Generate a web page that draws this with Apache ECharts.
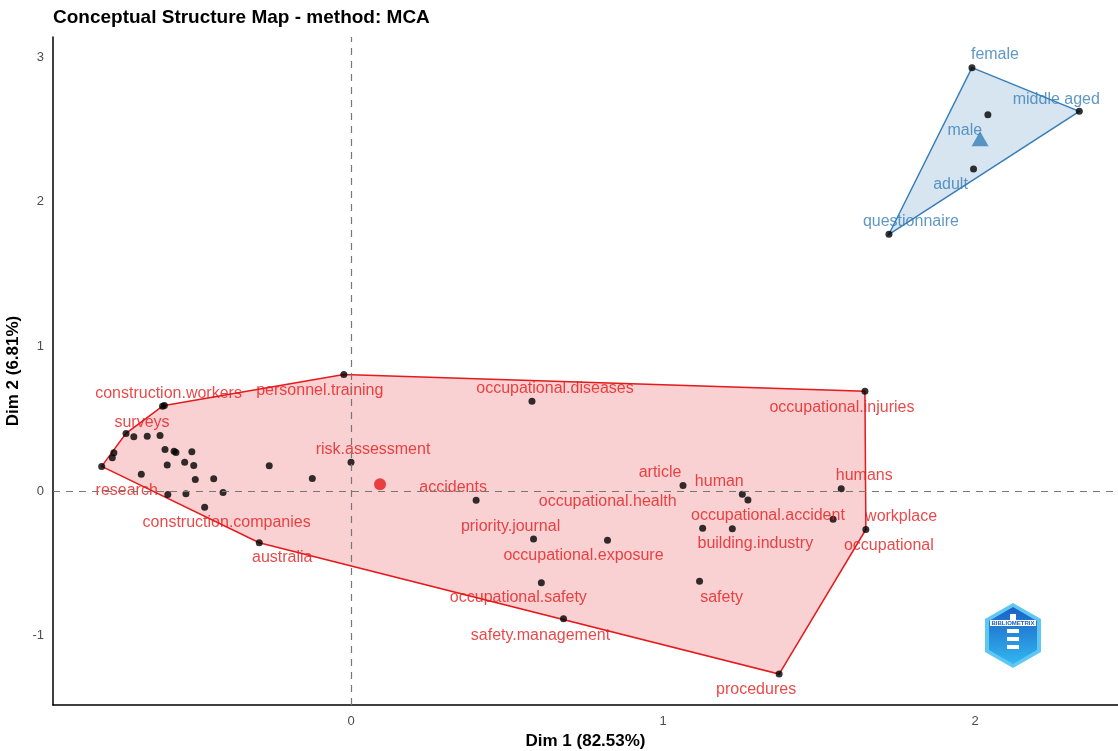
<!DOCTYPE html>
<html>
<head>
<meta charset="utf-8">
<script src="https://cdn.jsdelivr.net/npm/echarts@6/dist/echarts.min.js"></script>
<style>
html, body { margin: 0; padding: 0; background: #fff; }
#chart { width: 1118px; height: 751px; }
</style>
</head>
<body>
<div id="chart"></div>
<script>
// cluster 1 (red) words, '' = point without a label
var redWords = ['construction.workers', '', 'surveys', '', '', '', '', '', 'research', '', '', '', '', '', '', '', '', '', '', '', '',
	'risk.assessment', '', '', '', 'construction.companies', 'australia', 'personnel.training', 'accidents', 'article', 'human',
	'occupational.accident', 'humans', 'workplace', 'occupational', 'occupational.health', 'building.industry', 'priority.journal',
	'occupational.exposure', 'occupational.safety', 'safety', 'safety.management', 'occupational.diseases', 'occupational.injuries', 'procedures'];
var redX = [-0.604, -0.598, -0.721, -0.696, -0.653, -0.612, -0.760, -0.765, -0.799, -0.596, -0.567, -0.561, -0.510, -0.589, -0.533, -0.504, -0.672, -0.499, -0.440, -0.262, -0.124,
	0.000, -0.587, -0.529, -0.410, -0.469, -0.294, -0.023, 0.401, 1.064, 1.254,
	1.272, 1.571, 1.545, 1.650, 1.127, 1.222, 0.585,
	0.822, 0.610, 1.117, 0.681, 0.580, 1.647, 1.372];
var redY = [0.587, 0.592, 0.399, 0.375, 0.380, 0.385, 0.265, 0.230, 0.171, 0.288, 0.276, 0.267, 0.272, 0.180, 0.200, 0.177, 0.117, 0.081, 0.085, 0.175, 0.088,
	0.200, -0.023, -0.019, -0.009, -0.111, -0.357, 0.806, -0.064, 0.039, -0.021,
	-0.062, 0.016, -0.194, -0.265, -0.256, -0.260, -0.332,
	-0.339, -0.634, -0.624, -0.882, 0.622, 0.691, -1.265];

// cluster 2 (blue)
var blueWords = ['female', 'middle aged', 'male', 'adult', 'questionnaire'];
var blueX = [1.990, 2.334, 2.041, 1.995, 1.724];
var blueY = [2.928, 2.626, 2.603, 2.227, 1.776];

// cluster centroids
var redCenter = [0.093, 0.048];
var blueCenter = [2.016, 2.437];

var xTicks = [0, 1, 2];
var yTicks = [-1, 0, 1, 2, 3];

// label placement (pixels from the point, like ggrepel)
var labelOffset = {
	'construction.workers': [6, -13], 'surveys': [16, -11], 'research': [25, 24], 'risk.assessment': [22, -13],
	'construction.companies': [22, 15], 'australia': [23, 15], 'personnel.training': [-24, 16], 'accidents': [-23, -13],
	'article': [-23, -13], 'human': [-23, -13], 'occupational.accident': [20, 16], 'humans': [23, -13],
	'workplace': [68, -3], 'occupational': [23, 16], 'occupational.health': [-95, -27], 'building.industry': [23, 15],
	'priority.journal': [-23, -13], 'occupational.exposure': [-24, 15], 'occupational.safety': [-23, 15], 'safety': [22, 16],
	'safety.management': [-23, 17], 'occupational.diseases': [23, -13], 'occupational.injuries': [-23, 16], 'procedures': [-23, 16],
	'female': [23, -13], 'middle aged': [-23, -12], 'male': [-23, 16], 'adult': [-23, 16], 'questionnaire': [22, -13]
};

var RED = '#E41A1C';
var BLUE = '#377EB8';
var FONT = 'Liberation Sans, Arial, sans-serif';

//凸包
function convexHull(xs, ys) {
	var pts = [];
	for (var i = 0; i < xs.length; i++) pts.push([xs[i], ys[i]]);
	pts.sort(function(a, b) { return a[0] - b[0] || a[1] - b[1]; });
	function cross(o, a, b) { return (a[0] - o[0]) * (b[1] - o[1]) - (a[1] - o[1]) * (b[0] - o[0]); }
	var lower = [], upper = [];
	for (var i = 0; i < pts.length; i++) {
		while (lower.length >= 2 && cross(lower[lower.length - 2], lower[lower.length - 1], pts[i]) <= 0) lower.pop();
		lower.push(pts[i]);
	}
	for (var i = pts.length - 1; i >= 0; i--) {
		while (upper.length >= 2 && cross(upper[upper.length - 2], upper[upper.length - 1], pts[i]) <= 0) upper.pop();
		upper.push(pts[i]);
	}
	upper.pop(); lower.pop();
	return lower.concat(upper);
}

function hullSeries(xs, ys, color, fill) {
	var hull = convexHull(xs, ys);
	return {
		type: 'custom',
		silent: true,
		z: 1,
		data: [[0, 0]],
		renderItem: function(params, api) {
			var points = hull.map(function(p) { return api.coord(p); });
			return {
				type: 'polygon',
				shape: { points: points },
				style: { fill: fill, stroke: color, lineWidth: 1.5 }
			};
		}
	};
}

function pointData(words, xs, ys, color) {
	var data = [];
	for (var i = 0; i < xs.length; i++) {
		var item = { name: words[i], value: [xs[i], ys[i]] };
		if (words[i] != '' && labelOffset[words[i]]) {
			item.label = {
				show: true, position: 'inside', formatter: '{b}',
				color: color, fontSize: 16, fontFamily: FONT
			};
		}
		data.push(item);
	}
	return data;
}

function moveLabel(words) {
	return function(params) {
		var off = labelOffset[words[params.dataIndex]] || [0, 0];
		return { dx: off[0], dy: off[1], hideOverlap: false };
	};
}

var myChart = echarts.init(document.getElementById('chart'));

var option = {
	animation: false,
	backgroundColor: '#fff',
	title: {
		text: 'Conceptual Structure Map - method: MCA',
		left: 53, top: 8, padding: 0,
		textStyle: { fontSize: 19, fontWeight: 'bold', color: '#000', fontFamily: FONT }
	},
	grid: { left: 53, right: 0, top: 37, bottom: 46, containLabel: false, outerBoundsMode: 'none' },
	xAxis: {
		type: 'value', min: -0.955, max: 2.458,
		name: 'Dim 1 (82.53%)', nameLocation: 'middle', nameGap: 26,
		nameTextStyle: { fontSize: 17, fontWeight: 'bold', color: '#000', fontFamily: FONT },
		axisLine: { show: true, onZero: false, lineStyle: { color: '#000', width: 1.5 } },
		axisTick: { show: false },
		splitLine: { show: false },
		axisLabel: { customValues: xTicks, color: '#4d4d4d', fontSize: 13, margin: 10, fontFamily: FONT }
	},
	yAxis: {
		type: 'value', min: -1.479, max: 3.14,
		name: 'Dim 2 (6.81%)', nameLocation: 'middle', nameGap: 20, nameRotate: 90,
		nameTextStyle: { fontSize: 17, fontWeight: 'bold', color: '#000', fontFamily: FONT },
		axisLine: { show: true, onZero: false, lineStyle: { color: '#000', width: 1.5 } },
		axisTick: { show: false },
		splitLine: { show: false },
		axisLabel: { customValues: yTicks, color: '#4d4d4d', fontSize: 13, margin: 9, fontFamily: FONT }
	},
	series: [
		hullSeries(redX, redY, RED, 'rgba(228,26,28,0.2)'),
		hullSeries(blueX, blueY, BLUE, 'rgba(55,126,184,0.2)'),
		{
			type: 'scatter', z: 2, silent: true,
			symbolSize: 0, data: [],
			markLine: {
				silent: true, symbol: 'none', label: { show: false },
				lineStyle: { color: '#777', type: [7, 6], width: 1.2 },
				data: [{ xAxis: 0 }, { yAxis: 0 }]
			}
		},
		{
			type: 'scatter', z: 4, symbol: 'circle', symbolSize: 7,
			itemStyle: { color: '#000' },
			labelLayout: moveLabel(redWords),
			data: pointData(redWords, redX, redY, RED)
		},
		{
			type: 'scatter', z: 4, symbol: 'circle', symbolSize: 7,
			itemStyle: { color: '#000' },
			labelLayout: moveLabel(blueWords),
			data: pointData(blueWords, blueX, blueY, BLUE)
		},
		{
			type: 'scatter', z: 5, symbol: 'circle', symbolSize: 12,
			itemStyle: { color: RED },
			data: [redCenter]
		},
		{
			type: 'scatter', z: 5, symbol: 'triangle', symbolSize: [17, 15],
			itemStyle: { color: BLUE },
			data: [blueCenter]
		}
	],
	graphic: [{
		type: 'group', left: 985, top: 603,
		children: [
			{ type: 'polygon', shape: { points: [[28, 0], [56, 16], [56, 49], [28, 65], [0, 49], [0, 16]] },
				style: { fill: '#5ec8f2' } },
			{ type: 'polygon', shape: { points: [[28, 4], [52, 18], [52, 47], [28, 61], [4, 47], [4, 18]] },
				style: { fill: new echarts.graphic.LinearGradient(0, 0, 0, 1, [
					{ offset: 0, color: '#1a5fc4' }, { offset: 1, color: '#33b6f0' }]) } },
			{ type: 'rect', shape: { x: 5, y: 17, width: 46, height: 6 }, style: { fill: '#ffffff' } },
			{ type: 'text', style: { text: 'BIBLIOMETRIX', x: 28, y: 20, align: 'center', verticalAlign: 'middle',
				fontSize: 6, fontWeight: 'bold', fill: '#1a5fc4', fontFamily: FONT } },
			{ type: 'rect', shape: { x: 25, y: 11, width: 6, height: 6 }, style: { fill: '#ffffff' } },
			{ type: 'rect', shape: { x: 22, y: 26, width: 12, height: 4 }, style: { fill: '#ffffff' } },
			{ type: 'rect', shape: { x: 22, y: 34, width: 12, height: 4 }, style: { fill: '#ffffff' } },
			{ type: 'rect', shape: { x: 22, y: 42, width: 12, height: 4 }, style: { fill: '#ffffff' } }
		]
	}]
};

myChart.setOption(option);
</script>
</body>
</html>
